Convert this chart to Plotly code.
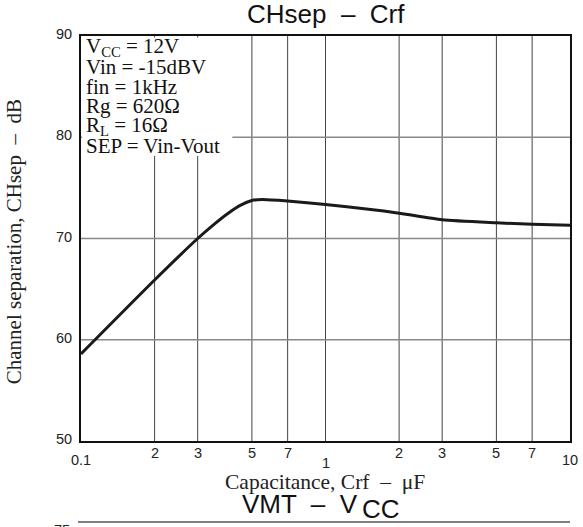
import math
import plotly.graph_objects as go

# Channel separation vs. ripple-filter capacitance
crf_uF = [0.1, 0.2, 0.3, 0.35, 0.4, 0.45, 0.5, 0.55, 0.7, 1.0, 1.5, 2.0, 3.0, 5.0, 7.0, 10.0]
chsep_dB = [58.6, 65.9, 70.0, 71.4, 72.5, 73.3, 73.75, 73.85, 73.7, 73.35, 72.9, 72.5, 71.85, 71.55, 71.4, 71.3]

x_grid = [0.2, 0.3, 0.5, 0.7, 1, 2, 3, 5, 7]
y_ticks = [50, 60, 70, 80, 90]
x_tick_vals = [0.1, 0.2, 0.3, 0.5, 0.7, 1, 2, 3, 5, 7, 10]
x_tick_text = ["0.1", "2", "3", "5", "7", "1", "2", "3", "5", "7", "10"]
x_tick_shift = [-19, -12, -12, -12, -12, -22, -12, -12, -12, -12, -19]

conditions = ["V<sub>CC</sub> = 12V", "Vin = -15dBV", "fin = 1kHz",
              "Rg = 620Ω", "R<sub>L</sub> = 16Ω", "SEP = Vin-Vout"]

W, H = 583, 527
L, R, T, B = 81, 572, 36, 441


def px(x):
    return (x - L) / (R - L)


def py(y):
    return (B - y) / (B - T)


SERIF = "Liberation Serif, Times New Roman, serif"
SANS = "Liberation Sans, Arial, sans-serif"

fig = go.Figure()
fig.add_trace(go.Scatter(
    x=crf_uF, y=chsep_dB, mode="lines",
    line=dict(color="#1a1a1a", width=3, shape="spline", smoothing=0.6),
    hoverinfo="skip", showlegend=False,
))

shapes = []
# vertical grid lines
for v in x_grid:
    shapes.append(dict(type="line", xref="x", yref="paper", x0=v, x1=v, y0=0, y1=1,
                       line=dict(color="#444444", width=1), layer="below"))
# horizontal grid lines
for v in y_ticks[1:-1]:
    shapes.append(dict(type="line", xref="paper", yref="y", x0=0, x1=1, y0=v, y1=v,
                       line=dict(color="#888888", width=1.3), layer="below"))
# white panel behind the test conditions
shapes.append(dict(type="rect", xref="paper", yref="paper",
                   x0=px(82), x1=px(233), y0=py(156), y1=py(37.5),
                   fillcolor="white", line=dict(width=0), layer="above"))
# axis line of the next chart peeking in at the bottom
shapes.append(dict(type="line", xref="paper", yref="paper",
                   x0=px(78), x1=px(572), y0=py(522), y1=py(522),
                   line=dict(color="#555555", width=1.3)))

annotations = []
for v, t, s in zip(x_tick_vals, x_tick_text, x_tick_shift):
    annotations.append(dict(x=math.log10(v), xref="x", y=0, yref="paper", text=t,
                            showarrow=False, yanchor="middle", yshift=s,
                            font=dict(family=SANS, size=14.5, color="#222222")))
for v in y_ticks:
    annotations.append(dict(x=0, xref="paper", y=v, yref="y", text=str(v), showarrow=False,
                            xanchor="right", yanchor="middle", xshift=-7, yshift=2,
                            font=dict(family=SANS, size=14.5, color="#222222")))

for i, line in enumerate(conditions):
    annotations.append(dict(x=px(84), xref="paper", y=py(47 + 19.8 * i), yref="paper",
                            text=line, showarrow=False, xanchor="left", yanchor="middle",
                            font=dict(family=SERIF, size=21, color="#111111")))

annotations += [
    dict(x=px(327), y=py(14), xref="paper", yref="paper", text="CHsep  –  Crf",
         showarrow=False, yanchor="middle", font=dict(family=SANS, size=26, color="#111111")),
    dict(x=px(326), y=py(482), xref="paper", yref="paper", text="Capacitance, Crf  –  μF",
         showarrow=False, yanchor="middle", font=dict(family=SERIF, size=21.5, color="#222222")),
    dict(x=px(14), y=py(242), xref="paper", yref="paper",
         text="Channel separation, CHsep  –  dB", textangle=-90, xanchor="center",
         yanchor="middle", showarrow=False,
         font=dict(family=SERIF, size=21, color="#222222")),
    # title of the following chart: "VMT – V" with a full-size, lowered "CC"
    dict(x=px(361), y=py(504), xref="paper", yref="paper", text="VMT  –  V",
         xanchor="right", yanchor="middle", showarrow=False,
         font=dict(family=SANS, size=26, color="#111111")),
    dict(x=px(361), y=py(509), xref="paper", yref="paper", text="CC",
         xanchor="left", yanchor="middle", showarrow=False,
         font=dict(family=SANS, size=26, color="#111111")),
    dict(x=px(72), y=py(530), xref="paper", yref="paper", text="75", xanchor="right",
         yanchor="middle", showarrow=False, font=dict(family=SANS, size=14.5, color="#222222")),
]

fig.update_layout(
    width=W, height=H,
    margin=dict(l=L, r=W - R, t=T, b=H - B),
    paper_bgcolor="white", plot_bgcolor="white",
    shapes=shapes, annotations=annotations,
    xaxis=dict(type="log", range=[-1, 1], showgrid=False, showticklabels=False,
               ticks="", zeroline=False, showline=True, mirror=True,
               linecolor="#111111", linewidth=1.6),
    yaxis=dict(range=[50, 90], showgrid=False, showticklabels=False, ticks="",
               zeroline=False, showline=True, mirror=True,
               linecolor="#111111", linewidth=1.6),
)

fig.write_html("out.html")
